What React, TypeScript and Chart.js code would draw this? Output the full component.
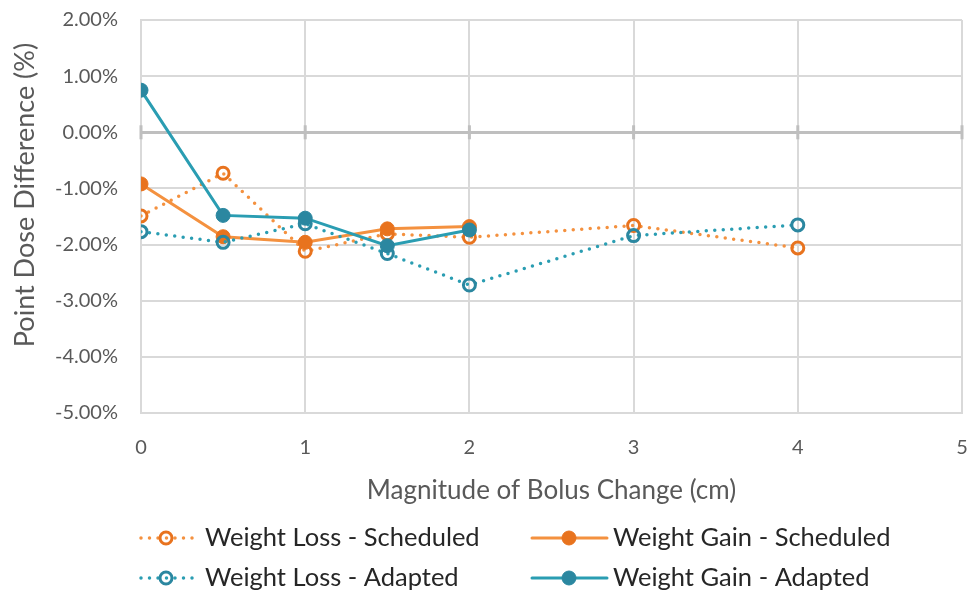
import React, { useEffect, useRef } from 'react';
import { Chart, registerables } from 'chart.js';

Chart.register(...registerables);

// ---- data ----
const lossX = [0, 0.5, 1, 1.5, 2, 3, 4];
const lossScheduled = [-1.49, -0.73, -2.12, -1.81, -1.87, -1.66, -2.06];
const lossAdapted = [-1.77, -1.96, -1.63, -2.16, -2.72, -1.84, -1.65];
const gainX = [0, 0.5, 1, 1.5, 2];
const gainScheduled = [-0.92, -1.86, -1.96, -1.72, -1.68];
const gainAdapted = [0.75, -1.48, -1.53, -2.02, -1.74];
const seriesNames = [
  'Weight Loss - Scheduled',
  'Weight Gain - Scheduled',
  'Weight Loss - Adapted',
  'Weight Gain - Adapted',
];
const xTitle = 'Magnitude of Bolus Change (cm)';
const yTitle = 'Point Dose Difference (%)';
const xRange = [0, 5];
const yRange = [-5, 2];

const ORANGE_LINE = '#F4913F';
const ORANGE_MARK = '#E8731E';
const TEAL_LINE = '#2A9DB2';
const TEAL_MARK = '#2B87A0';
const FONT = 'Lato, "Open Sans", sans-serif';

const zeroTicks = {
  id: 'zeroTicks',
  beforeDatasetsDraw(chart: any) {
    const { ctx, scales } = chart;
    const x = scales.x;
    const y0 = scales.y.getPixelForValue(0);
    ctx.save();
    ctx.strokeStyle = '#bfbfbf';
    ctx.lineWidth = 3;
    x.ticks.forEach((t: any) => {
      const px = x.getPixelForValue(t.value);
      ctx.beginPath();
      ctx.moveTo(px, y0 - 7);
      ctx.lineTo(px, y0 + 7);
      ctx.stroke();
    });
    ctx.restore();
  },
};

const yTitlePlugin = {
  id: 'yTitlePlugin',
  afterDraw(chart: any) {
    const { ctx } = chart;
    ctx.save();
    ctx.translate(25, 195);
    ctx.rotate(-Math.PI / 2);
    ctx.fillStyle = '#595959';
    ctx.font = `27px ${FONT}`;
    ctx.textAlign = 'center';
    ctx.textBaseline = 'middle';
    ctx.fillText(yTitle, 0, 0);
    ctx.restore();
  },
};

const customLegend = {
  id: 'customLegend',
  afterDraw(chart: any) {
    const { ctx } = chart;
    const cols = [
      { x0: 141, x1: 197, mx: 166, tx: 205 },
      { x0: 532, x1: 607, mx: 569, tx: 613 },
    ];
    const rows = [538, 578];
    chart.data.datasets.forEach((ds: any, i: number) => {
      const c = cols[i % 2];
      const y = rows[Math.floor(i / 2)];
      ctx.save();
      ctx.strokeStyle = ds.borderColor;
      ctx.lineWidth = ds.borderWidth;
      ctx.lineCap = ds.borderCapStyle || 'butt';
      ctx.setLineDash(ds.borderDash || []);
      ctx.beginPath();
      ctx.moveTo(c.x0, y);
      ctx.lineTo(c.x1, y);
      ctx.stroke();
      ctx.setLineDash([]);
      ctx.beginPath();
      ctx.arc(c.mx, y, ds.pointRadius, 0, Math.PI * 2);
      ctx.fillStyle = ds.pointBackgroundColor;
      ctx.fill();
      ctx.lineWidth = ds.pointBorderWidth;
      ctx.strokeStyle = ds.pointBorderColor;
      ctx.stroke();
      ctx.fillStyle = '#262626';
      ctx.font = `25.5px ${FONT}`;
      ctx.textBaseline = 'middle';
      ctx.textAlign = 'left';
      ctx.fillText(ds.label, c.tx, y);
      ctx.restore();
    });
  },
};

function pts(xs: number[], ys: number[]) {
  return xs.map((x, i) => ({ x, y: ys[i] }));
}

export default function App() {
  const ref = useRef<HTMLCanvasElement>(null);
  useEffect(() => {
    const dotted = { borderWidth: 3.5, borderDash: [0, 8.5], borderCapStyle: 'round', pointRadius: 6, pointBorderWidth: 3, pointBackgroundColor: 'rgba(255,255,255,0)' };
    const solid = { borderWidth: 3, borderCapStyle: 'round', pointRadius: 7, pointBorderWidth: 1 };
    const chart = new Chart(ref.current!, {
      type: 'line',
      data: {
        datasets: [
          { ...dotted, label: seriesNames[0], data: pts(lossX, lossScheduled), borderColor: ORANGE_LINE, pointBorderColor: ORANGE_MARK, order: 4 },
          { ...solid, label: seriesNames[1], data: pts(gainX, gainScheduled), borderColor: ORANGE_LINE, pointBorderColor: ORANGE_MARK, pointBackgroundColor: ORANGE_MARK, order: 3 },
          { ...dotted, label: seriesNames[2], data: pts(lossX, lossAdapted), borderColor: TEAL_LINE, pointBorderColor: TEAL_MARK, order: 2 },
          { ...solid, label: seriesNames[3], data: pts(gainX, gainAdapted), borderColor: TEAL_LINE, pointBorderColor: TEAL_MARK, pointBackgroundColor: TEAL_MARK, order: 1 },
        ] as any,
      },
      options: {
        responsive: false,
        animation: false,
        layout: { padding: { top: 20, right: 0, bottom: 80, left: 0 } },
        plugins: { legend: { display: false }, tooltip: { enabled: false } },
        scales: {
          x: {
            type: 'linear',
            min: xRange[0],
            max: xRange[1],
            ticks: { stepSize: 1, padding: 23, color: '#595959', font: { family: FONT, size: 20 } },
            grid: { color: '#d9d9d9', lineWidth: 2, drawTicks: false },
            border: { color: '#d9d9d9', width: 2 },
            title: { display: true, text: xTitle, color: '#595959', font: { family: FONT, size: 26 }, padding: { top: 0, bottom: 5 } },
            afterFit: (s: any) => { s.height = 98; s.paddingLeft = 0; s.paddingRight = 0; },
          },
          y: {
            min: yRange[0],
            max: yRange[1],
            ticks: { stepSize: 1, padding: 23, color: '#595959', font: { family: FONT, size: 20 }, callback: (v: any) => Number(v).toFixed(2) + '%' },
            grid: {
              color: (c: any) => (c.tick && c.tick.value === 0 ? '#bfbfbf' : '#d9d9d9'),
              lineWidth: (c: any) => (c.tick && c.tick.value === 0 ? 3 : 2),
              drawTicks: false,
            },
            border: { color: '#d9d9d9', width: 2 },
            title: { display: false },
            afterFit: (s: any) => { s.width = 141; s.paddingTop = 0; s.paddingBottom = 0; },
          },
        },
      } as any,
      plugins: [zeroTicks, yTitlePlugin, customLegend],
    });
    return () => chart.destroy();
  }, []);
  return (
    <div style={{ position: 'fixed', left: 0, top: 0, width: 971, height: 591, background: '#fff' }}>
      <canvas ref={ref} width={971} height={591} />
    </div>
  );
}
